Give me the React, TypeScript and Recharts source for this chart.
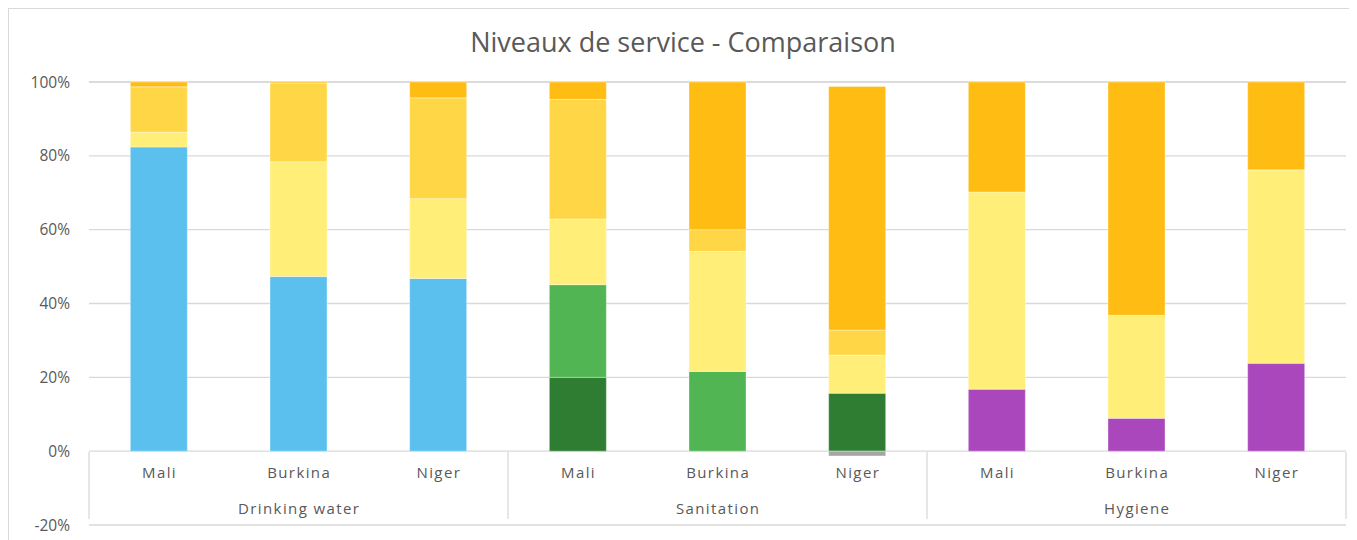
import React from "react";
import { BarChart, Bar, XAxis, YAxis, CartesianGrid } from "recharts";

const categories = ["Mali", "Burkina", "Niger", "Mali", "Burkina", "Niger", "Mali", "Burkina", "Niger"];
const groups = ["Drinking water", "Drinking water", "Drinking water", "Sanitation", "Sanitation", "Sanitation", "Hygiene", "Hygiene", "Hygiene"];

const safelyManaged = [0, 0, 0, 20.0, 0, 15.7, 0, 0, 0];
const basicSanitation = [0, 0, 0, 25.1, 21.6, 0, 0, 0, 0];
const basicWater = [82.4, 47.3, 46.8, 0, 0, 0, 0, 0, 0];
const basicHygiene = [0, 0, 0, 0, 0, 0, 16.8, 8.9, 23.8];
const limited = [4.0, 31.1, 21.6, 17.8, 32.5, 10.3, 53.4, 27.9, 52.4];
const unimproved = [12.3, 21.3, 27.3, 32.4, 5.9, 6.8, 0, 0, 0];
const noService = [1.3, 0.3, 4.3, 4.7, 40.0, 66.0, 29.8, 63.2, 23.8];
const other = [0, 0, 0, 0, 0, -1.3, 0, 0, 0];

const yTicks = [-20, 0, 20, 40, 60, 80, 100];

const data = categories.map((c, i) => ({
  country: c,
  group: groups[i],
  safelyManaged: safelyManaged[i],
  basicSanitation: basicSanitation[i],
  basicWater: basicWater[i],
  basicHygiene: basicHygiene[i],
  limited: limited[i],
  unimproved: unimproved[i],
  noService: noService[i],
  other: other[i],
}));

const series = [
  { key: "safelyManaged", color: "#2E7D32" },
  { key: "basicSanitation", color: "#52B553" },
  { key: "basicWater", color: "#5BC0EE" },
  { key: "basicHygiene", color: "#AA47BC" },
  { key: "limited", color: "#FFEF78" },
  { key: "unimproved", color: "#FFD746" },
  { key: "noService", color: "#FFBC13" },
  { key: "other", color: "#A5A5A5" },
];

const FONT = "'Open Sans', 'Liberation Sans', sans-serif";
const TXT = "#595959";
const LS = 1.4;

const CountryTick = (props: any) => {
  const { x, y, payload } = props;
  return (
    <text x={x + LS / 2} y={y - 47} textAnchor="middle" fontSize={15} letterSpacing={LS} fill={TXT} fontFamily={FONT}>
      {payload.value}
    </text>
  );
};

const GroupTick = (props: any) => {
  const { x, y, payload, index } = props;
  const off = payload && payload.offset ? payload.offset : 69.8;
  const els: any[] = [];
  const top = y - 74;
  const bot = y - 7;
  if (index % 3 === 0) {
    els.push(<line key="l" x1={x - off} x2={x - off} y1={top} y2={bot} stroke="#D9D9D9" strokeWidth={1.3} />);
  }
  if (index === categories.length - 1) {
    els.push(<line key="r" x1={x + off} x2={x + off} y1={top} y2={bot} stroke="#D9D9D9" strokeWidth={1.3} />);
  }
  if (index % 3 === 1) {
    els.push(
      <text key="t" x={x + LS / 2} y={y - 12} textAnchor="middle" fontSize={15} letterSpacing={LS} fill={TXT} fontFamily={FONT}>
        {payload.value}
      </text>
    );
  }
  return <g>{els}</g>;
};

export default function App() {
  return (
    <div
      style={{
        position: "relative",
        width: 1349,
        height: 532,
        borderLeft: "1px solid #D9D9D9",
        borderTop: "1px solid #D9D9D9",
        boxSizing: "border-box",
        background: "#fff",
      }}
    >
      <div
        style={{
          position: "absolute",
          left: -1,
          top: 16,
          width: 1350,
          textAlign: "center",
          fontFamily: FONT,
          fontSize: 27,
          color: TXT,
          lineHeight: "34px",
        }}
      >
        Niveaux de service - Comparaison
      </div>
      <BarChart
        width={1348}
        height={531}
        data={data}
        stackOffset="sign"
        barCategoryGap="29.6%"
        margin={{ top: 73, right: 11, bottom: 13, left: 0 }}
      >
        <CartesianGrid vertical={false} stroke="#D9D9D9" strokeWidth={1.3} />
        <YAxis
          domain={[-20, 100]}
          ticks={yTicks}
          width={80}
          axisLine={false}
          tickLine={false}
          tickSize={0}
          tickMargin={19}
          tickFormatter={(v: number) => `${v}%`}
          tick={{ fontSize: 15.5, fill: TXT, fontFamily: FONT }}
          interval={0}
        />
        <XAxis
          xAxisId="cat"
          dataKey="country"
          height={1}
          axisLine={false}
          tickLine={false}
          tickSize={0}
          tickMargin={0}
          interval={0}
          tick={<CountryTick />}
        />
        <XAxis
          xAxisId="grp"
          dataKey="group"
          height={1}
          axisLine={false}
          tickLine={false}
          tickSize={0}
          tickMargin={0}
          interval={0}
          tick={<GroupTick />}
        />
        {series.map((s) => (
          <Bar
            key={s.key}
            dataKey={s.key}
            xAxisId="cat"
            stackId="a"
            fill={s.color}
            stroke="rgba(255,255,255,0.35)"
            strokeWidth={1}
            isAnimationActive={false}
          />
        ))}
      </BarChart>
    </div>
  );
}
